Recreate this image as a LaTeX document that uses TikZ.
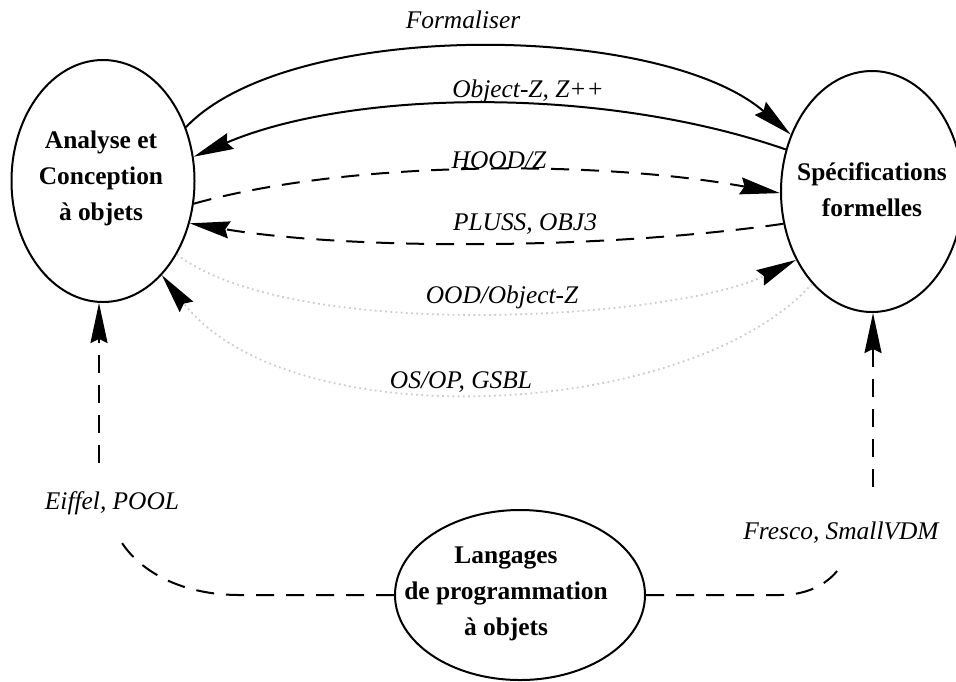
\documentclass[tikz,border=0pt]{standalone}
\usepackage{fontspec}
\setmainfont{Liberation Serif}
\usetikzlibrary{arrows.meta,shapes.geometric}
\begin{document}
\begin{tikzpicture}[x=0.5pt,y=-0.5pt,
  dombox/.style={ellipse,draw,line width=1pt,inner sep=0pt},
  domtitle/.style={font=\fontsize{12.7}{18}\selectfont\bfseries,align=center,inner sep=0pt},
  lbl/.style={font=\fontsize{12.7}{15}\selectfont\itshape,inner sep=1pt},
  arr/.style={-{Stealth[length=20pt,width=8.5pt,inset=2pt,color=black]}},
  solidlink/.style={line width=1pt},
  dashlink/.style={line width=1pt,dash pattern=on 9pt off 6pt},
  dotlink/.style={line width=0.9pt,gray!40,dash pattern=on 0.9pt off 1.7pt},
]
\useasboundingbox (0,0) rectangle (956,681);

% the three domains (outline, then title)
\node[dombox,minimum width=91.5pt,minimum height=121pt] (aco) at (103,181) {};
\node[domtitle] (acot) at (101,178) {Analyse et\\Conception\\à objets};
\node[dombox,minimum width=91pt,minimum height=120.5pt] (sf) at (872,191.5) {};
\node[domtitle] (sft) at (872,190) {Spécifications\\formelles};
\node[dombox,minimum width=125pt,minimum height=85pt] (lpo) at (520,595) {};
\node[domtitle] (lpot) at (506,594) {Langages\\de programmation\\à objets};

% solid links
\draw[solidlink,arr] (aco.33) .. controls (290,18) and (660,22) .. (sf.145);
\node[lbl] (lf) at (463,20) {Formaliser};
\draw[solidlink,arr] (sf.154) .. controls (600,85) and (350,90) .. (aco.15);
\node[lbl] (loz) at (528,91) {Object-Z, Z++};

% dashed links
\draw[dashlink,arr] (aco.-14) .. controls (350,160) and (600,160) .. (sf.181.5);
\node[lbl] (lhz) at (499,160) {HOOD/Z};
\draw[dashlink,arr] (sf.200) .. controls (600,250) and (350,250) .. (aco.-26);
\node[lbl] (lpl) at (525,224) {PLUSS, OBJ3};

% dotted links
\draw[dotlink,arr] (aco.-45) .. controls (300,345) and (680,318) .. (sf.222);
\node[lbl] (lood) at (502,297) {OOD/Object-Z};
\draw[dotlink,arr] (sf.237) .. controls (690,420) and (290,440) .. (aco.-58);
\node[lbl] (losop) at (461,382) {OS/OP, GSBL};

% links from the programming languages
\coordinate (ebot) at (117,534);
\coordinate (etop) at (99,463);
\draw[dashlink] (lpo.west) -- (240,595) .. controls (170,595) and (130,562) .. (ebot);
\node[lbl] (lei) at (112,503) {Eiffel, POOL};
\draw[dashlink,arr] (etop) -- (etop |- aco.south);

\coordinate (fbot) at (840,567);
\coordinate (ftop) at (873,487);
\draw[dashlink] (lpo.east) -- (780,595) .. controls (810,595) and (830,582) .. (fbot);
\node[lbl] (lfr) at (841,533) {Fresco, SmallVDM};
\draw[dashlink,arr] (ftop) -- (ftop |- sf.south);
\end{tikzpicture}
\end{document}
